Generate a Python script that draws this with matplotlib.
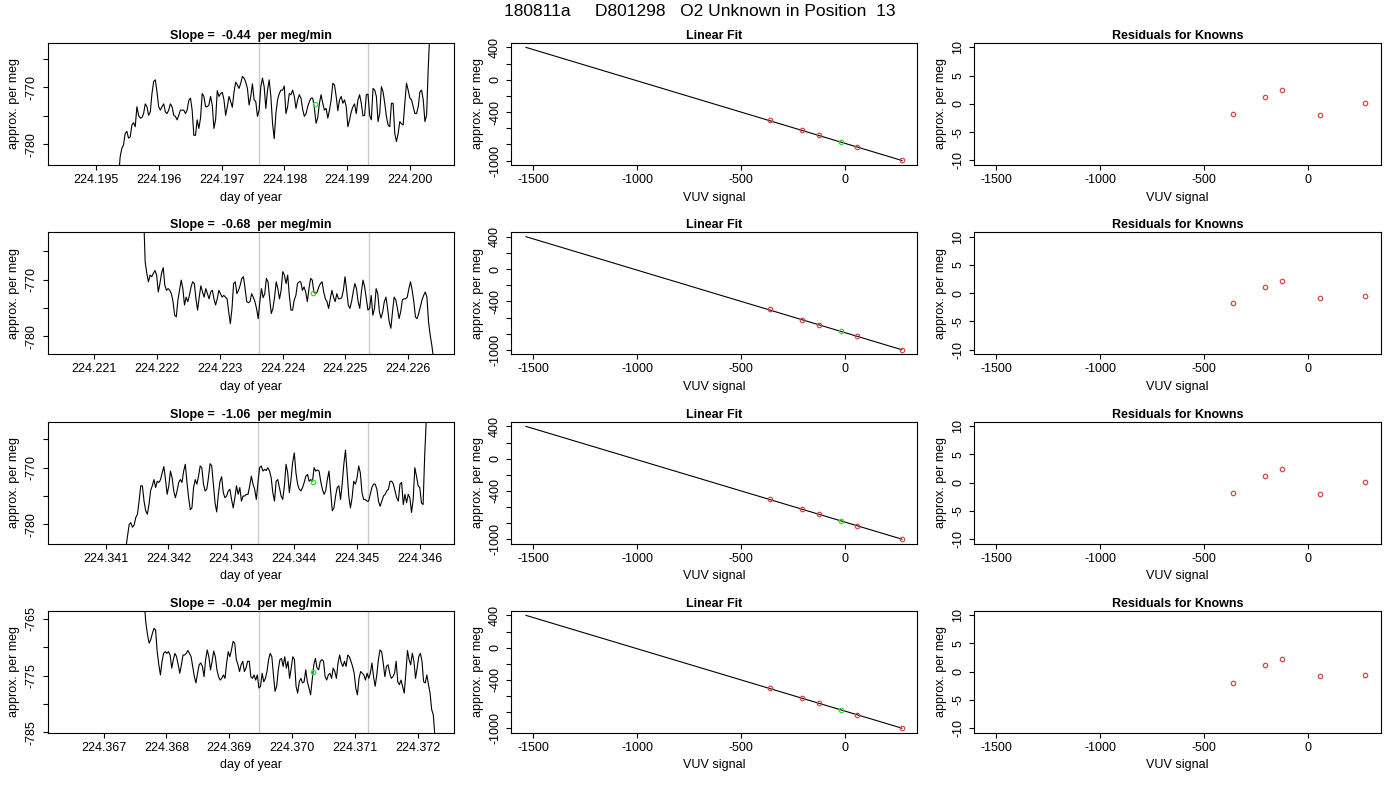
import numpy as np
from matplotlib import pyplot as plt

plt.rcParams["font.family"] = ["Liberation Sans", "DejaVu Sans"]

title_text = "180811a     D801298   O2 Unknown in Position  13"

# ---- left column: per meg traces ----
slopes = ["-0.44", "-0.68", "-1.06", "-0.04"]

trace_1 = [
    -786.0, -782.2, -780.7, -780.1, -778.1, -777.7, -778.9, -778.7, -776.6, -776.2,
    -776.9, -773.4, -774.9, -775.4, -775.3, -774.6, -772.9, -773.4, -774.9, -774.3,
    -771.1, -769.0, -768.7, -770.8, -773.4, -774.0, -773.4, -772.9, -774.3, -774.6,
    -774.0, -772.9, -773.4, -774.9, -775.1, -775.7, -774.9, -774.0, -774.0, -774.0,
    -774.6, -774.0, -772.3, -771.9, -774.0, -778.4, -778.4, -775.7, -777.2, -775.4,
    -771.1, -771.6, -773.4, -773.4, -773.1, -771.6, -773.1, -777.2, -775.7, -770.6,
    -771.6, -771.1, -770.9, -772.2, -774.9, -773.4, -771.6, -772.5, -773.5, -770.8,
    -769.1, -769.6, -770.2, -769.3, -768.1, -768.4, -769.1, -770.2, -773.1, -771.6,
    -769.4, -772.2, -772.5, -775.1, -774.0, -769.9, -768.4, -769.9, -773.7, -770.5,
    -768.7, -771.6, -776.3, -779.0, -774.6, -772.2, -771.1, -770.5, -770.5, -769.8,
    -774.6, -773.4, -771.1, -771.3, -770.5, -771.6, -773.7, -772.2, -771.3, -771.9,
    -773.9, -775.1, -774.6, -773.4, -772.5, -771.9, -771.9, -773.7, -776.3, -775.3,
    -772.8, -771.3, -772.8, -774.0, -773.7, -775.4, -774.0, -772.2, -769.3, -769.6,
    -771.6, -774.1, -772.2, -771.6, -772.8, -772.2, -773.4, -776.9, -775.7, -774.3,
    -773.4, -772.9, -774.6, -772.2, -771.3, -772.8, -775.0, -774.9, -771.3, -771.2,
    -774.9, -775.7, -770.2, -770.5, -771.6, -776.0, -774.6, -769.9, -770.8, -772.8,
    -775.1, -776.6, -776.9, -772.8, -772.8, -778.1, -779.5, -778.1, -776.0, -776.4,
    -776.6, -772.8, -769.3, -770.5, -771.9, -772.2, -773.4, -774.6, -774.6, -773.4,
    -770.8, -770.5, -772.2, -776.0, -774.9, -766.4, -760.0,
]

trace_2 = [
    -758.0, -766.9, -768.9, -770.4, -769.2, -769.5, -768.9, -768.4, -769.2, -772.2,
    -770.7, -768.9, -767.9, -771.0, -771.9, -771.6, -771.9, -772.5, -773.9, -776.3,
    -776.6, -773.6, -771.9, -770.1, -771.6, -774.5, -773.1, -773.9, -772.8, -771.3,
    -770.4, -770.7, -773.4, -775.4, -773.1, -771.1, -772.2, -773.1, -771.6, -772.5,
    -773.4, -772.2, -771.9, -773.4, -774.5, -773.4, -771.9, -772.5, -773.1, -772.8,
    -773.1, -773.4, -775.7, -777.8, -775.1, -770.7, -770.4, -772.5, -771.9, -771.0,
    -769.8, -769.5, -771.6, -773.9, -774.1, -773.9, -772.5, -773.1, -773.9, -775.1,
    -776.9, -773.9, -771.6, -773.2, -772.5, -769.8, -770.4, -773.4, -776.0, -775.1,
    -773.1, -770.4, -771.6, -773.4, -771.9, -768.6, -769.2, -770.7, -769.2, -772.8,
    -775.4, -775.4, -773.6, -772.8, -770.7, -770.4, -770.4, -771.9, -771.3, -772.2,
    -773.9, -771.6, -769.8, -770.1, -772.2, -772.5, -772.2, -771.3, -770.7, -770.4,
    -772.2, -773.4, -773.9, -775.1, -773.4, -771.9, -773.1, -773.9, -772.5, -773.4,
    -773.4, -773.2, -771.9, -769.5, -771.9, -774.5, -775.1, -773.9, -772.2, -770.7,
    -771.6, -773.9, -775.1, -772.2, -770.1, -771.3, -773.4, -775.4, -775.1, -772.8,
    -776.3, -775.1, -771.6, -772.5, -775.7, -776.8, -775.7, -773.9, -773.1, -775.1,
    -777.5, -778.6, -775.7, -773.1, -773.6, -775.1, -776.9, -775.7, -773.6, -773.4,
    -773.4, -773.1, -771.6, -770.4, -771.9, -773.9, -776.6, -776.9, -776.0, -774.8,
    -773.6, -772.8, -772.2, -773.1, -777.5, -779.8, -781.6, -783.9,
]

trace_3 = [
    -784.1, -782.1, -780.0, -779.7, -780.5, -780.1, -778.8, -778.2, -775.9, -773.2,
    -773.2, -775.9, -777.6, -778.2, -776.5, -774.0, -773.2, -772.1, -773.5, -772.4,
    -772.6, -772.1, -770.9, -769.8, -772.1, -774.7, -773.2, -770.6, -771.8, -774.1,
    -775.3, -774.1, -772.6, -772.1, -772.6, -770.6, -769.4, -772.6, -775.3, -777.4,
    -777.1, -773.5, -772.1, -772.9, -771.5, -769.7, -770.0, -772.9, -774.1, -773.8,
    -771.8, -769.3, -769.7, -772.9, -776.2, -777.8, -774.7, -772.4, -771.6, -774.4,
    -775.3, -775.0, -774.1, -773.8, -775.6, -777.1, -775.3, -773.2, -774.7, -773.5,
    -775.9, -775.0, -775.0, -774.7, -774.7, -773.2, -771.5, -772.9, -773.8, -775.6,
    -772.6, -770.0, -769.7, -770.6, -770.3, -770.5, -770.0, -770.6, -771.8, -774.4,
    -775.9, -772.4, -772.1, -773.5, -775.0, -775.6, -773.2, -769.4, -770.9, -774.4,
    -772.1, -769.1, -767.4, -770.9, -772.9, -773.8, -774.1, -773.5, -772.6, -771.5,
    -771.2, -772.4, -772.1, -772.4, -770.0, -770.6, -770.4, -770.6, -772.4, -773.8,
    -774.7, -774.1, -772.1, -770.6, -774.1, -777.6, -777.1, -775.0, -773.5, -773.2,
    -775.6, -772.9, -769.4, -766.9, -770.9, -775.0, -777.1, -775.3, -772.4, -772.9,
    -771.8, -769.7, -770.9, -774.4, -775.6, -775.6, -775.9, -775.9, -774.7, -773.5,
    -772.9, -772.9, -773.8, -775.9, -776.8, -775.9, -775.0, -774.7, -774.1, -773.8,
    -772.4, -772.4, -772.9, -774.1, -775.3, -775.9, -772.9, -772.6, -776.5, -774.7,
    -776.2, -774.7, -775.3, -777.9, -775.6, -770.0, -771.5, -773.2, -773.5, -776.2,
    -776.5, -767.6, -761.2,
]

trace_4 = [
    -762.3, -765.8, -767.8, -769.3, -768.7, -767.6, -766.7, -767.0, -770.8, -773.1,
    -774.9, -772.5, -771.1, -770.8, -771.1, -770.8, -771.4, -773.7, -772.2, -771.1,
    -771.7, -773.1, -774.6, -773.1, -771.4, -771.4, -771.1, -770.6, -771.1, -771.7,
    -773.4, -775.2, -776.3, -774.6, -773.1, -772.8, -773.4, -775.2, -772.2, -770.5,
    -771.7, -774.0, -772.5, -770.7, -771.7, -774.0, -775.2, -775.8, -775.5, -774.9,
    -775.5, -772.8, -770.8, -771.7, -770.5, -769.0, -769.3, -772.2, -773.1, -774.3,
    -773.1, -772.5, -774.3, -773.7, -772.5, -772.5, -775.2, -775.5, -774.9, -775.8,
    -774.9, -777.2, -776.9, -774.6, -776.1, -775.5, -774.3, -772.2, -771.1, -771.7,
    -774.9, -777.8, -776.9, -774.0, -772.2, -772.0, -773.4, -771.7, -773.7, -772.5,
    -775.5, -773.7, -771.7, -772.2, -776.9, -778.1, -776.1, -775.5, -776.3, -776.1,
    -774.0, -776.1, -777.2, -778.4, -775.8, -773.1, -772.0, -773.7, -774.0, -772.5,
    -772.2, -772.5, -775.2, -775.8, -774.9, -774.6, -775.5, -773.7, -774.3, -775.5,
    -772.8, -771.4, -772.8, -773.4, -772.5, -773.4, -771.4, -771.7, -772.5, -773.4,
    -774.6, -777.2, -778.4, -775.5, -774.3, -774.6, -774.9, -775.8, -774.6, -775.5,
    -774.6, -772.8, -775.2, -776.9, -774.9, -772.2, -770.5, -770.8, -772.8, -775.2,
    -773.4, -773.1, -774.6, -775.5, -775.2, -774.6, -772.5, -776.1, -776.6, -775.8,
    -776.9, -778.1, -774.6, -770.6, -772.2, -773.1, -771.1, -772.5, -775.5, -773.7,
    -771.7, -771.1, -772.5, -776.1, -776.3, -774.9, -776.6, -778.1, -781.0, -781.9,
    -785.7,
]

traces = [trace_1, trace_2, trace_3, trace_4]
# first / last sample time of each trace (day of year)
trace_start = [224.195357, 224.221786, 224.341323, 224.367648]
trace_end = [224.200317, 224.226403, 224.346101, 224.372276]

day_xlim = [
    (224.19423, 224.20070),
    (224.22026, 224.22673),
    (224.34008, 224.34654),
    (224.36611, 224.37258),
]
per_meg_ylim = [(-783.6, -762.2), (-783.2, -761.6), (-783.4, -761.9), (-785.06, -763.6)]
day_ticks = [
    [224.195, 224.196, 224.197, 224.198, 224.199, 224.200],
    [224.221, 224.222, 224.223, 224.224, 224.225, 224.226],
    [224.341, 224.342, 224.343, 224.344, 224.345, 224.346],
    [224.367, 224.368, 224.369, 224.370, 224.371, 224.372],
]
per_meg_ticks = [
    [-765, -770, -775, -780],
    [-765, -770, -775, -780],
    [-765, -770, -775, -780],
    [-765, -770, -775, -780, -785],
]
per_meg_labels = [
    ["", "-770", "", "-780"],
    ["", "-770", "", "-780"],
    ["", "-770", "", "-780"],
    ["-765", "", "-775", "", "-785"],
]
window_edges = [
    (224.19760, 224.19933),
    (224.22363, 224.22537),
    (224.34343, 224.34517),
    (224.36947, 224.37121),
]
unknown_day = [224.19848, 224.22449, 224.34430, 224.37033]
unknown_per_meg = [-772.9, -772.35, -772.6, -774.3]

# ---- middle column: calibration fit ----
known_vuv = [-363, -208, -128, 58, 272]
known_per_meg = [-495, -627, -689, -829, -998]
unknown_vuv = -21
unknown_fit = -771
fit_line_vuv = [-1534, 272]
fit_line_per_meg = [400, -998]

# ---- right column: residuals of knowns ----
residuals = [
    [-1.8, 1.2, 2.4, -1.9, 0.1],
    [-1.7, 1.0, 2.1, -0.9, -0.5],
    [-1.9, 1.2, 2.5, -2.0, 0.1],
    [-2.0, 1.1, 2.3, -0.8, -0.6],
]

RED = "#d04a4a"
GREEN = "#33dd33"
FONT = 9


def px_axes(fig, left, top, right, bottom):
    w, h = 1400.0, 800.0
    return fig.add_axes([left / w, 1 - bottom / h, (right - left) / w, (bottom - top) / h])


def style_axes(ax):
    for s in ax.spines.values():
        s.set_linewidth(0.8)
    ax.tick_params(direction="out", length=3.6, width=0.8, labelsize=FONT, pad=3)
    ax.tick_params(axis="y", pad=3.5)


def rotate_y(ax, ticks, labels):
    ax.set_yticks(ticks)
    ax.set_yticklabels(labels, rotation=90, va="center")


def draw_trace(ax, i):
    y = np.array(traces[i])
    x = np.linspace(trace_start[i], trace_end[i], len(y))
    for edge in window_edges[i]:
        ax.axvline(edge, color="#cccccc", lw=1.0, zorder=1)
    ax.plot(x, y, color="black", lw=0.8, zorder=2)
    ax.plot(unknown_day[i], unknown_per_meg[i], "o", ms=3.2, mfc="none",
            mec=GREEN, mew=0.9, zorder=3)
    ax.set_xlim(*day_xlim[i])
    ax.set_ylim(*per_meg_ylim[i])
    ax.set_xticks(day_ticks[i])
    ax.set_xticklabels([f"{t:.3f}" for t in day_ticks[i]])
    rotate_y(ax, per_meg_ticks[i], per_meg_labels[i])
    ax.set_title(f"Slope =  {slopes[i]}  per meg/min", fontsize=FONT,
                 fontweight="bold", pad=3)
    ax.set_xlabel("day of year", fontsize=FONT, labelpad=4)
    ax.set_ylabel("approx. per meg", fontsize=FONT, labelpad=4)


def draw_fit(ax):
    ax.plot(fit_line_vuv, fit_line_per_meg, color="black", lw=0.8)
    ax.plot(known_vuv, known_per_meg, "o", ms=3.2, mfc="none", mec=RED, mew=0.9)
    ax.plot(unknown_vuv, unknown_fit, "o", ms=3.2, mfc="none", mec=GREEN, mew=0.9)
    ax.set_xlim(-1606, 346)
    ax.set_ylim(-1054, 458)
    ax.set_xticks([-1500, -1000, -500, 0])
    ax.set_xticklabels(["-1500", "-1000", "-500", "0"])
    rotate_y(ax, [-1000, -800, -600, -400, -200, 0, 200, 400],
             ["-1000", "", "", "-400", "", "0", "", "400"])
    ax.set_title("Linear Fit", fontsize=FONT, fontweight="bold", pad=3)
    ax.set_xlabel("VUV signal", fontsize=FONT, labelpad=4)
    ax.set_ylabel("approx. per meg", fontsize=FONT, labelpad=4)


def draw_residuals(ax, i):
    ax.plot(known_vuv, residuals[i], "o", ms=3.2, mfc="none", mec=RED, mew=0.9)
    ax.set_xlim(-1606, 350)
    ax.set_ylim(-10.8, 10.8)
    ax.set_xticks([-1500, -1000, -500, 0])
    ax.set_xticklabels(["-1500", "-1000", "-500", "0"])
    rotate_y(ax, [-10, -5, 0, 5, 10], ["-10", "-5", "0", "5", "10"])
    ax.set_title("Residuals for Knowns", fontsize=FONT, fontweight="bold", pad=3)
    ax.set_xlabel("VUV signal", fontsize=FONT, labelpad=4)
    ax.set_ylabel("approx. per meg", fontsize=FONT, labelpad=4)


def main():
    fig = plt.figure(figsize=(14, 8), dpi=100)
    fig.text(0.5, 1 - 11.5 / 800, title_text, ha="center", va="center", fontsize=12.5)

    cols = [(47.7, 454.0), (511.0, 917.3), (974.3, 1381.0)]
    rows = [(42.7, 165.0), (232.0, 354.3), (421.7, 543.7), (610.7, 732.7)]

    for i, (top, bottom) in enumerate(rows):
        ax = px_axes(fig, cols[0][0], top, cols[0][1], bottom)
        style_axes(ax)
        draw_trace(ax, i)

        ax = px_axes(fig, cols[1][0], top, cols[1][1], bottom)
        style_axes(ax)
        draw_fit(ax)

        ax = px_axes(fig, cols[2][0], top, cols[2][1], bottom)
        style_axes(ax)
        draw_residuals(ax, i)

    fig.savefig("out.png", dpi=100)


if __name__ == "__main__":
    main()
